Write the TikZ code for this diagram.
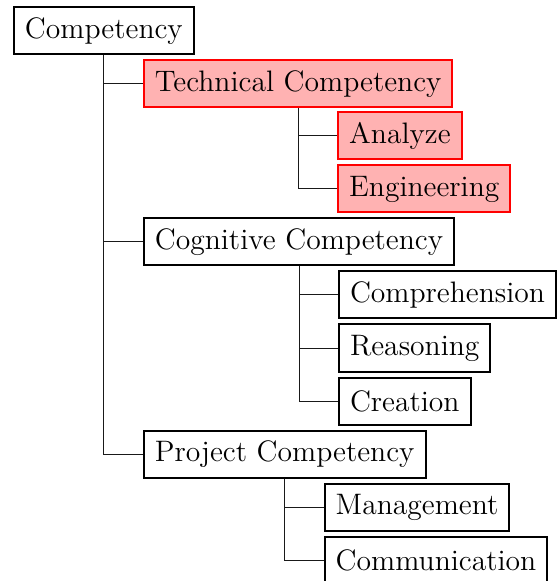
\documentclass[tikz,border=0pt]{standalone}
\usepackage{fontspec}
\usetikzlibrary{calc}

\tikzset{
    item/.style={draw,line width=1pt,anchor=west,inner xsep=5.5pt,inner ysep=0pt,
                 minimum height=23.5pt,font=\fontsize{14.8}{18}\selectfont},
    hl/.style={draw=red,fill=red!30},
    link/.style={line width=0.5pt,black!90}
}

\begin{document}
\begin{tikzpicture}[x=0.5pt,y=-0.5pt]
    \useasboundingbox (0,0) rectangle (558,581);

    % Root:
    \node [item] (root) at (13,31) {Competency};

    % First level, each one shifted right from the root's stem:
    \node [item,hl,xshift=19.5pt] (tech) at (root.south |- 0,84)  {Technical Competency};
    \node [item,xshift=19.5pt]    (cog)  at (root.south |- 0,242) {Cognitive Competency};
    \node [item,xshift=19.5pt]    (proj) at (root.south |- 0,454) {Project Competency};

    % Leaves below technical competency:
    \node [item,hl,xshift=19.5pt] (ana) at (tech.south |- 0,136) {Analyze};
    \node [item,hl,xshift=19.5pt] (eng) at (tech.south |- 0,189) {Engineering};

    % Leaves below cognitive competency:
    \node [item,xshift=19.5pt] (comp) at (cog.south |- 0,295) {Comprehension};
    \node [item,xshift=19.5pt] (reas) at (cog.south |- 0,348) {Reasoning};
    \node [item,xshift=19.5pt] (crea) at (cog.south |- 0,401) {Creation};

    % Leaves below project competency:
    \node [item,xshift=19.5pt] (mgmt) at (proj.south |- 0,507) {Management};
    \node [item,xshift=19.5pt] (comm) at (proj.south |- 0,560) {Communication};

    % Tree lines, drawn from the parent's bottom to the child's left side:
    \foreach \parent/\child in {root/tech,root/cog,root/proj,tech/ana,tech/eng,
                                cog/comp,cog/reas,cog/crea,proj/mgmt,proj/comm}
        \draw [link] (\parent.south) |- (\child.west);
\end{tikzpicture}
\end{document}
